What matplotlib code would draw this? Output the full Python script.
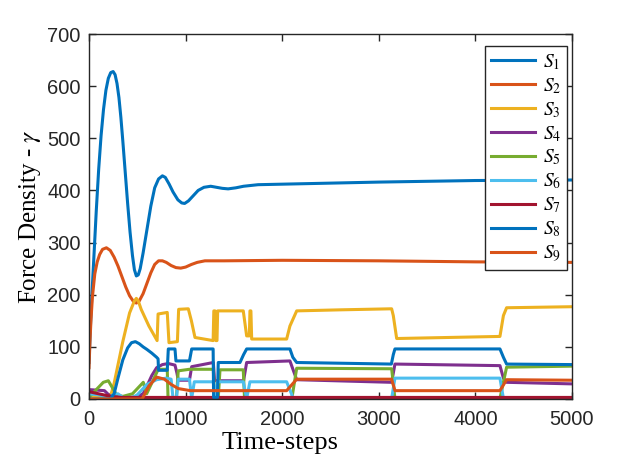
import matplotlib
matplotlib.use('Agg')
import matplotlib.pyplot as plt

# Valores (time-step, valor)
t_s1 = [0, 15, 30, 50, 75, 100, 125, 150, 175, 200, 225, 250, 270, 290, 310, 330, 350, 375, 400,
        425, 450, 470, 490, 510, 530, 560, 600, 640, 680, 720, 760, 790, 830, 870, 920, 960, 990,
        1030, 1080, 1130, 1190, 1260, 1320, 1380, 1440, 1520, 1600, 1750, 2000, 2500, 3000, 4000, 5000]
v_s1 = [70, 140, 200, 270, 360, 440, 505, 555, 592, 615, 626, 628, 622, 605, 578, 540, 495, 435, 375,
        320, 275, 248, 236, 238, 250, 280, 325, 370, 405, 422, 428, 425, 412, 397, 382, 376, 375,
        380, 390, 400, 406, 408, 406, 404, 403, 405, 408, 411, 412, 414, 416, 419, 420]

t_s2 = [0, 10, 20, 35, 60, 85, 110, 140, 180, 220, 260, 300, 340, 380, 420, 460, 490, 520, 560, 600,
        640, 680, 720, 760, 800, 850, 900, 950, 1000, 1060, 1120, 1200, 1400, 2000, 3000, 4000, 5000]
v_s2 = [60, 110, 150, 195, 240, 263, 277, 287, 290, 285, 272, 255, 235, 215, 198, 187, 184, 188, 202, 222,
        242, 258, 265, 265, 262, 256, 252, 251, 253, 258, 262, 265, 265, 266, 265, 263, 262]

t_s3 = [0, 150, 230, 260, 350, 420, 470, 490, 510, 540, 620, 705, 715, 810, 828, 915, 928, 1028, 1060,
        1097, 1285, 1292, 1305, 1312, 1325, 1332, 1597, 1632, 1660, 1666, 1676, 1684, 2046, 2080, 2150,
        2600, 3133, 3150, 3185, 4254, 4290, 4323, 5000]
v_s3 = [5, 3, 10, 30, 110, 165, 188, 193, 188, 172, 140, 112, 163, 166, 108, 110, 172, 173, 150,
        118, 112, 169, 169, 112, 112, 169, 169, 121, 121, 169, 169, 115, 115, 140, 169,
        171, 173, 160, 116, 120, 160, 175, 177]

t_s4 = [0, 160, 215, 260, 400, 500, 560, 600, 650, 700, 760, 821, 890, 910, 924, 1040, 1063, 1287,
        1300, 1600, 1632, 2080, 2150, 3133, 3167, 4254, 4290, 4323, 5000]
v_s4 = [18, 16, 6, 3, 2, 5, 10, 25, 45, 60, 66, 68, 65, 50, 36, 36, 62, 70,
        35, 35, 70, 73, 37, 32, 67, 64, 40, 32, 29]

t_s5 = [0, 60, 148, 200, 260, 287, 350, 450, 562, 597, 717, 810, 818, 905, 924, 1040, 1063, 1287,
        1300, 1338, 1356, 1597, 1610, 2100, 2150, 3133, 3167, 4254, 4323, 5000]
v_s5 = [3, 15, 32, 35, 16, 8, 5, 10, 32, 10, 57, 57, 3, 3, 54, 57, 57, 57,
        2, 2, 56, 56, 1, 1, 59, 58, 1, 1, 61, 63]

t_s6 = [0, 100, 200, 250, 300, 350, 420, 500, 560, 600, 700, 800, 850, 870, 905, 924, 1040, 1063,
        1090, 1287, 1300, 1330, 1597, 1632, 1666, 2046, 2115, 3133, 3167, 4254, 4290, 5000]
v_s6 = [10, 8, 3, 8, 10, 3, 0, 8, 20, 28, 37, 40, 38, 1, 1, 38, 38, 1,
        33, 33, 1, 33, 33, 1, 33, 33, 1, 1, 40, 40, 1, 1]

t_s7 = [0, 100, 200, 334, 5000]
v_s7 = [14, 10, 6, 3, 3]

t_s8 = [0, 220, 260, 300, 350, 400, 440, 480, 520, 560, 600, 650, 700, 715, 720, 810, 821, 890, 900,
        1040, 1063, 1285, 1290, 1330, 1338, 1563, 1600, 1632, 2080, 2110, 2150, 3130, 3150, 3167,
        4254, 4290, 4323, 5000]
v_s8 = [0, 0, 10, 40, 75, 98, 108, 110, 106, 100, 95, 88, 80, 77, 55, 55, 96, 96, 73,
        73, 96, 96, 3, 3, 70, 70, 85, 96, 96, 80, 70, 67, 85, 96,
        96, 80, 67, 66]

t_s9 = [0, 550, 620, 700, 780, 850, 924, 1050, 2046, 2150, 3133, 3167, 4254, 4323, 5000]
v_s9 = [0, 0, 25, 42, 38, 28, 20, 16, 16, 38, 38, 16, 16, 37, 36]

series = [(t_s1, v_s1), (t_s2, v_s2), (t_s3, v_s3), (t_s4, v_s4), (t_s5, v_s5),
          (t_s6, v_s6), (t_s7, v_s7), (t_s8, v_s8), (t_s9, v_s9)]
nomes = [f'$S_{i}$' for i in range(1, 10)]
cores = ['#0072BD', '#D95319', '#EDB120', '#7E2F8E', '#77AC30',
         '#4DBEEE', '#A2142F', '#0072BD', '#D95319']

plt.rcParams['mathtext.fontset'] = 'stix'
plt.rcParams['font.family'] = ['Liberation Sans', 'DejaVu Sans']

fig = plt.figure(figsize=(6.23, 4.68), dpi=100)
ax = fig.add_axes([89 / 623, 69 / 468, 483 / 623, 365 / 468])

for (t, v), nome, cor in zip(series, nomes, cores):
    ax.plot(t, v, color=cor, linewidth=2.2, label=nome, solid_joinstyle='round')

ax.set_xlim(0, 5000)
ax.set_ylim(0, 700)
ax.set_xticks(range(0, 5001, 1000))
ax.set_yticks(range(0, 701, 100))
ax.tick_params(direction='in', top=True, right=True, length=5, width=1,
               labelsize=14.5, colors='#262626')
ax.tick_params(axis='x', pad=8)
ax.tick_params(axis='y', pad=6)
for sp in ax.spines.values():
    sp.set_color('#262626')
    sp.set_linewidth(1)

ax.set_xlabel('Time-steps', fontfamily='Liberation Serif', fontsize=19)
ax.xaxis.set_label_coords(0.395, -0.09)
ax.set_ylabel(r'Force Density - $\gamma$', fontfamily='Liberation Serif', fontsize=18, labelpad=3)

leg = ax.legend(loc='upper right', bbox_to_anchor=(0.99, 0.967), borderaxespad=0,
                fontsize=14, fancybox=False, edgecolor='#262626', framealpha=1,
                handlelength=2.3, labelspacing=0.22, borderpad=0.3, handletextpad=0.4)
leg.get_frame().set_linewidth(1)

fig.savefig('out.png', dpi=100)
